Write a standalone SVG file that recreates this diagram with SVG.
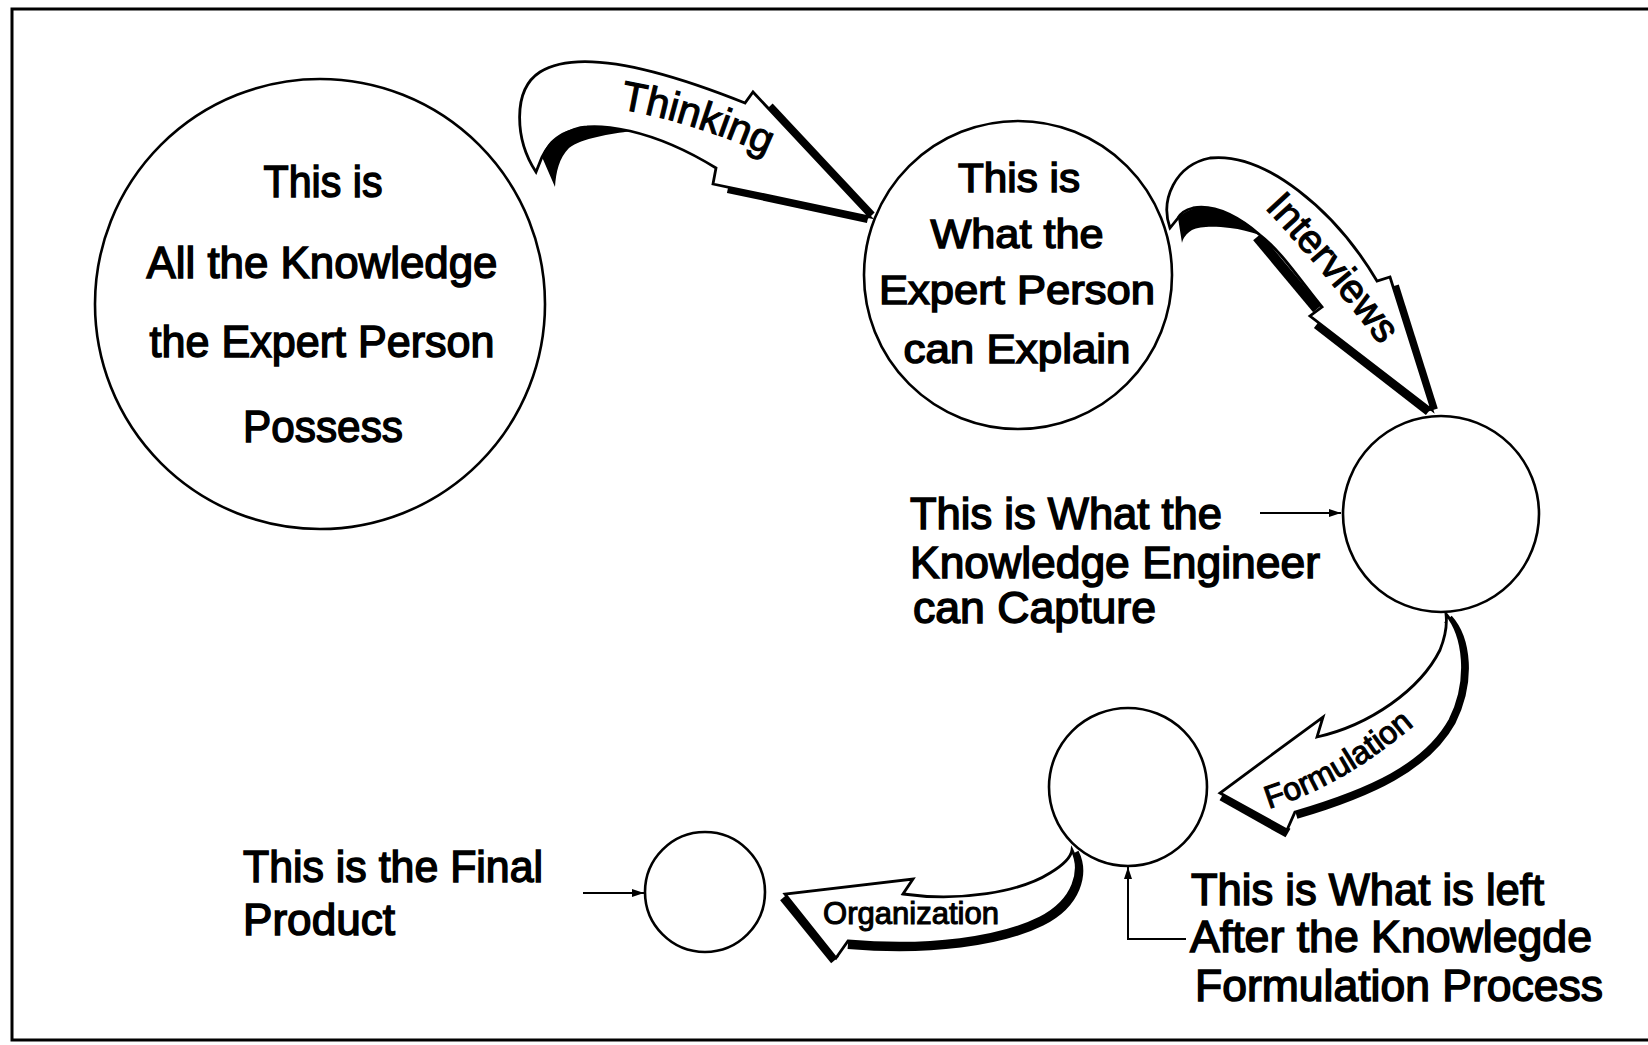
<svg xmlns="http://www.w3.org/2000/svg" width="1648" height="1045" viewBox="0 0 1648 1045">
  <defs>
    <style>
      .frame{fill:none;stroke:#000;stroke-width:3}
      .node{fill:#fff;stroke:#000;stroke-width:2.6}
      .lbl{font-family:"Liberation Sans",Arial,Helvetica,sans-serif;fill:#000;stroke:#000;stroke-width:1.5}
      .big{font-size:45px;text-anchor:middle}
      .mid{font-size:41px;text-anchor:middle}
      .side{font-size:44px}
      .band{fill:#fff;stroke:#000;stroke-width:2.8;stroke-linejoin:miter}
      .shade{fill:#000;stroke:none}
      .edge{fill:none;stroke:#000;stroke-width:10}
      .word{font-family:"Liberation Sans",Arial,Helvetica,sans-serif;fill:#000;stroke:#000;stroke-width:1.1;text-anchor:middle}
      .ptr{fill:none;stroke:#000;stroke-width:2}
    </style>
    <marker id="head" viewBox="0 0 12 8" refX="12" refY="4" markerWidth="13" markerHeight="8" markerUnits="userSpaceOnUse" orient="auto">
      <path d="M0,0 L12,4 L0,8 Z" fill="#000"/>
    </marker>
    <path id="p-thinking" d="M592,105 Q692,117 792,167"/>
    <path id="p-interviews" d="M1241,183 Q1324,268 1401,373"/>
    <path id="p-formulation" d="M1254,813 Q1340,791 1426,715"/>
  </defs>

  <!-- page frame (open on the right) -->
  <path class="frame" d="M1648,9 H12 V1040 H1648"/>

  <g id="connectors">
    <!-- Thinking: big circle to explainable knowledge -->
    <g id="arrow-thinking">
      <path class="edge" d="M769,107 L871,216"/>
      <path class="edge" d="M728,188 L868,218"/>
      <path class="band" d="M536,172 C515,140 512,90 540,72 C575,50 650,65 745,103 L753,92 L870,217 L713,184 L716,168 C690,152 660,138 630,131 C610,127 595,126 587,127 C570,128 550,140 542,157 Z"/>
      <path class="shade" d="M542,157 C548,138 565,127 590,127 C605,127 620,129 632,131 C610,134 582,138 569,148 C559,158 556,172 555,187 Z"/>
      <text class="word" font-size="41"><textPath href="#p-thinking" startOffset="50%">Thinking</textPath></text>
    </g>

    <!-- Interviews: explainable knowledge to captured knowledge -->
    <g id="arrow-interviews">
      <path class="edge" d="M1257,237 L1317,309"/>
      <path class="edge" d="M1317,324 L1429,411"/>
      <path class="edge" d="M1394,286 L1433,410"/>
      <path class="band" d="M1170,228 C1160,200 1175,165 1210,158 C1265,152 1335,210 1377,281 L1390,277 L1432,410 L1310,316 L1322,307 C1300,280 1280,250 1260,235 C1240,218 1215,204 1193,208 C1185,210 1180,214 1178,218 Z"/>
      <path class="shade" d="M1178,218 C1185,210 1195,207 1210,208 C1230,212 1248,222 1260,235 C1250,232 1240,229 1230,228 C1215,226 1200,226 1192,230 C1186,234 1183,238 1182,243 Z"/>
      <text class="word" font-size="40"><textPath href="#p-interviews" startOffset="50%">Interviews</textPath></text>
    </g>

    <!-- Formulation: captured knowledge to formulated knowledge -->
    <g id="arrow-formulation">
      <path class="edge" d="M1448,619 C1466,639 1471,681 1451,721 C1426,766 1371,792 1296,814"/>
      <path class="edge" d="M1222,796 L1288,833"/>
      <path class="band" d="M1446,614 C1464,635 1470,680 1450,720 C1425,765 1370,790 1295,812 L1287,830 L1220,793 L1323,717 L1317,737 C1370,725 1420,690 1440,650 C1446,635 1447,622 1446,614 Z"/>
      <text class="word" font-size="32"><textPath href="#p-formulation" startOffset="50%">Formulation</textPath></text>
    </g>

    <!-- Organization: formulated knowledge to final product -->
    <g id="arrow-organization">
      <path class="edge" d="M1074,853 C1084,873 1077,903 1041,921 C1001,941 930,951 848,944"/>
      <path class="edge" d="M784,897 L835,960"/>
      <path class="band" d="M1072,850 C1082,870 1075,900 1040,918 C1000,938 930,948 848,941 L836,958 L785,894 L913,879 L903,894 C960,902 1020,892 1050,873 C1065,864 1071,857 1072,850 Z"/>
      <text class="word" font-size="31" x="911" y="924">Organization</text>
    </g>

    <!-- label pointers -->
    <path id="ptr-capture" class="ptr" d="M1260,513 H1341" marker-end="url(#head)"/>
    <path id="ptr-left" class="ptr" d="M1186,939 H1128 V867" marker-end="url(#head)"/>
    <path id="ptr-final" class="ptr" d="M583,893 H644" marker-end="url(#head)"/>
  </g>

  <g id="node-all-knowledge">
    <circle class="node" cx="320" cy="304" r="225"/>
    <text class="lbl big" x="323" y="197" textLength="119" lengthAdjust="spacingAndGlyphs">This is</text>
    <text class="lbl big" x="322" y="278" textLength="351" lengthAdjust="spacingAndGlyphs">All the Knowledge</text>
    <text class="lbl big" x="322" y="357" textLength="345" lengthAdjust="spacingAndGlyphs">the Expert Person</text>
    <text class="lbl big" x="323" y="442" textLength="160" lengthAdjust="spacingAndGlyphs">Possess</text>
  </g>

  <g id="node-explainable">
    <circle class="node" cx="1018" cy="275" r="154"/>
    <text class="lbl mid" x="1019" y="192" textLength="122" lengthAdjust="spacingAndGlyphs">This is</text>
    <text class="lbl mid" x="1017" y="248" textLength="173" lengthAdjust="spacingAndGlyphs">What the</text>
    <text class="lbl mid" x="1017" y="304" textLength="276" lengthAdjust="spacingAndGlyphs">Expert Person</text>
    <text class="lbl mid" x="1017" y="363" textLength="227" lengthAdjust="spacingAndGlyphs">can Explain</text>
  </g>

  <g id="node-captured">
    <circle class="node" cx="1441" cy="514" r="98"/>
    <text class="lbl side" x="910" y="529" textLength="312" lengthAdjust="spacingAndGlyphs">This is What the</text>
    <text class="lbl side" x="910" y="578" textLength="410" lengthAdjust="spacingAndGlyphs">Knowledge Engineer</text>
    <text class="lbl side" x="913" y="623" textLength="243" lengthAdjust="spacingAndGlyphs">can Capture</text>
  </g>

  <g id="node-formulated">
    <circle class="node" cx="1128" cy="787" r="79"/>
    <text class="lbl side" x="1191" y="905" textLength="353" lengthAdjust="spacingAndGlyphs">This is What is left</text>
    <text class="lbl side" x="1190" y="952" textLength="402" lengthAdjust="spacingAndGlyphs">After the Knowlegde</text>
    <text class="lbl side" x="1195" y="1001" textLength="408" lengthAdjust="spacingAndGlyphs">Formulation Process</text>
  </g>

  <g id="node-final">
    <circle class="node" cx="705" cy="892" r="60"/>
    <text class="lbl side" x="243" y="882" textLength="300" lengthAdjust="spacingAndGlyphs">This is the Final</text>
    <text class="lbl side" x="243" y="935" textLength="152" lengthAdjust="spacingAndGlyphs">Product</text>
  </g>
</svg>
